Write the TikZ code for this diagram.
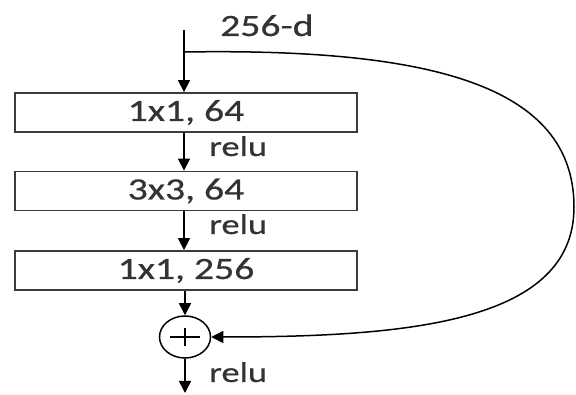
\documentclass[tikz,border=0pt]{standalone}
\usepackage{fontspec}
\setmainfont{Carlito}[FakeStretch=1.28,FakeBold=0.6]
\usetikzlibrary{arrows.meta,shapes.geometric}
\definecolor{txt}{HTML}{333333}
\definecolor{edge}{HTML}{3C3C3C}
\begin{document}
\begin{tikzpicture}[x=1pt,y=-1pt,
  layer/.style={draw=edge,line width=1.8pt,minimum width=342pt,minimum height=39pt,inner sep=0pt,
    text=txt,font=\fontsize{31}{36}\selectfont},
  lbl/.style={text=txt,font=\fontsize{28.5}{34}\selectfont,inner sep=0pt,anchor=base west},
  flow/.style={line width=1.5pt,-{Triangle[width=12pt,length=12pt]}},
  addnode/.style={ellipse,draw=black,line width=1.5pt,minimum width=51pt,minimum height=42pt,inner sep=0pt}]
\useasboundingbox (0,0) rectangle (576,395);
\coordinate (in) at (184,30);
\coordinate (br) at (184,52);
\node[layer] (b1) at (186,112.5) {1x1, 64};
\node[layer] (b2) at (186,191) {3x3, 64};
\node[layer] (b3) at (186,270.5) {1x1, 256};
\node[addnode] (add) at (185,337) {};
\coordinate (out) at (185,393);
\node[text=txt,font=\fontsize{31}{36}\selectfont,inner sep=0pt,anchor=base west] (dim) at (220,36) {256-d};
\node[lbl] (r1) at (209,156) {relu};
\node[lbl] (r2) at (209,234) {relu};
\node[lbl] (r3) at (209,382) {relu};
\draw[flow] (in) -- (in |- b1.north);
\draw[flow] (in |- b1.south) -- (in |- b2.north);
\draw[flow] (in |- b2.south) -- (in |- b3.north);
\draw[flow] (add.north |- b3.south) -- (add.north);
\draw[flow] (add.south) -- (out);
\draw[line width=1.5pt] ([xshift=-15pt]add.center) -- ([xshift=15pt]add.center);
\draw[line width=1.5pt] ([yshift=-9pt]add.center) -- ([yshift=9pt]add.center);
\draw[line width=1.5pt,-{Triangle[width=12pt,length=12pt]}] (br) .. controls (430,48) and (574,85) .. (574,207) .. controls (574,322) and (410,337) .. (add.east);
\end{tikzpicture}
\end{document}
